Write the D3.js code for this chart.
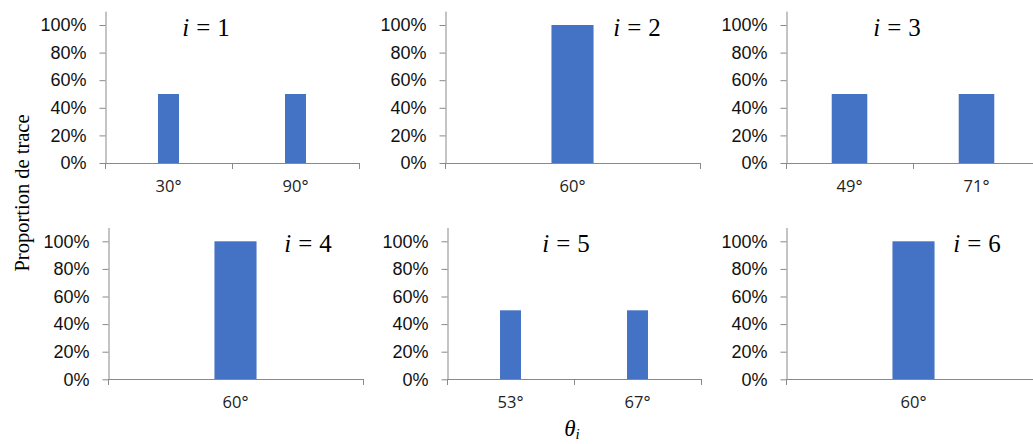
<!DOCTYPE html>
<html><head><meta charset="utf-8">
<script src="https://cdn.jsdelivr.net/npm/d3@7"></script>
<style>body{margin:0;background:#fff}</style>
</head><body>
<svg id="chart" width="1033" height="444"></svg>
<script>
// ---- data ----
const categories1 = ["30°", "90°"];
const values1 = [0.5, 0.5];
const categories2 = ["60°"];
const values2 = [1.0];
const categories3 = ["49°", "71°"];
const values3 = [0.5, 0.5];
const categories4 = ["60°"];
const values4 = [1.0];
const categories5 = ["53°", "67°"];
const values5 = [0.5, 0.5];
const categories6 = ["60°"];
const values6 = [1.0];
const panelIndex = ["1", "2", "3", "4", "5", "6"];
const yTickValues = [0, 0.2, 0.4, 0.6, 0.8, 1.0];
const yAxisTitle = "Proportion de trace";
const xAxisSymbol = "θ";
const xAxisSub = "i";

const panels = [
  {cats: categories1, vals: values1},
  {cats: categories2, vals: values2},
  {cats: categories3, vals: values3},
  {cats: categories4, vals: values4},
  {cats: categories5, vals: values5},
  {cats: categories6, vals: values6}
];

// ---- layout (positions / sizes) ----
const layout = [
  {left: 105, base: 163,   width: 254, barFrac: 0.165, titleX: 101},
  {left: 445, base: 163,   width: 255, barFrac: 0.165, titleX: 192},
  {left: 786, base: 163,   width: 254, barFrac: 0.28,  titleX: 111},
  {left: 108, base: 379.3, width: 255, barFrac: 0.165, titleX: 200},
  {left: 447, base: 379.3, width: 254, barFrac: 0.165, titleX: 119},
  {left: 786, base: 379.3, width: 255, barFrac: 0.165, titleX: 191}
];
const plotH = 151.8;   // height for domain [0, 1.1]
const axisColor = "#898989";
const barColor = "#4472C4";

const svg = d3.select("#chart");

panels.forEach((p, i) => {
  const L = layout[i];
  const g = svg.append("g");
  const y = d3.scaleLinear().domain([0, 1.1]).range([L.base, L.base - plotH]);
  const xOuter = d3.scaleBand().domain(p.cats).range([L.left, L.left + L.width]).padding(0);
  const xBar = d3.scaleBand().domain(p.cats).range([L.left, L.left + L.width])
    .paddingInner(1 - L.barFrac).paddingOuter((1 - L.barFrac) / 2);

  // bars
  g.selectAll("rect.bar").data(p.cats.map((c, k) => ({c, v: p.vals[k]})))
    .enter().append("rect")
    .attr("class", "bar")
    .attr("x", d => xBar(d.c))
    .attr("width", xBar.bandwidth())
    .attr("y", d => y(d.v))
    .attr("height", d => y(0) - y(d.v))
    .attr("fill", barColor);

  // y axis
  const yAxis = d3.axisLeft(y).tickValues(yTickValues)
    .tickFormat(d3.format(".0%")).tickSize(6).tickSizeOuter(0).tickPadding(13);
  const ya = g.append("g").attr("transform", `translate(${L.left + 0.5},0)`).call(yAxis);
  ya.select(".domain").attr("stroke", axisColor);
  ya.selectAll(".tick line").attr("stroke", axisColor);
  ya.selectAll(".tick text")
    .attr("fill", "#111")
    .style("font-family", "'Liberation Sans', Arial, sans-serif")
    .style("font-size", "18px");

  // x axis line
  const xa = g.append("g");
  xa.append("line")
    .attr("x1", L.left).attr("x2", L.left + L.width)
    .attr("y1", Math.round(L.base) + 0.5).attr("y2", Math.round(L.base) + 0.5)
    .attr("stroke", axisColor);
  const bounds = p.cats.map(c => xOuter(c)).concat([xOuter(p.cats[p.cats.length - 1]) + xOuter.bandwidth()]);
  xa.selectAll("line.tk").data(bounds).enter().append("line")
    .attr("class", "tk")
    .attr("x1", d => Math.round(d) + 0.5).attr("x2", d => Math.round(d) + 0.5)
    .attr("y1", Math.round(L.base)).attr("y2", Math.round(L.base) + 6)
    .attr("stroke", axisColor);
  xa.selectAll("text").data(p.cats).enter().append("text")
    .attr("x", d => xOuter(d) + xOuter.bandwidth() / 2)
    .attr("y", L.base + 29)
    .attr("text-anchor", "middle")
    .attr("fill", "#222")
    .style("font-family", "'Open Sans', sans-serif")
    .style("font-size", "16.5px")
    .text(d => d);

  // panel title  i = n
  const t = g.append("text")
    .attr("x", L.left + L.titleX)
    .attr("y", L.base - 127)
    .attr("text-anchor", "middle")
    .style("font-family", "'Liberation Serif', 'DejaVu Serif', serif")
    .style("font-size", "25px")
    .attr("fill", "#000");
  t.append("tspan").style("font-style", "italic").text("i");
  t.append("tspan").attr("dx", 7).text("=");
  t.append("tspan").attr("dx", 7).text(panelIndex[i]);
});

// y axis title
svg.append("text")
  .attr("transform", "translate(29,193) rotate(-90)")
  .attr("text-anchor", "middle")
  .style("font-family", "'Liberation Serif', 'Times New Roman', serif")
  .style("font-size", "20.5px")
  .attr("fill", "#000")
  .text(yAxisTitle);

// x axis title
const xt = svg.append("text")
  .attr("x", 572)
  .attr("y", 436)
  .attr("text-anchor", "middle")
  .style("font-family", "'Liberation Serif', 'DejaVu Serif', serif")
  .style("font-size", "23px")
  .style("font-style", "italic")
  .attr("fill", "#000");
xt.append("tspan").text(xAxisSymbol);
xt.append("tspan").attr("dy", 3).style("font-size", "15px").text(xAxisSub);
</script>
</body></html>
